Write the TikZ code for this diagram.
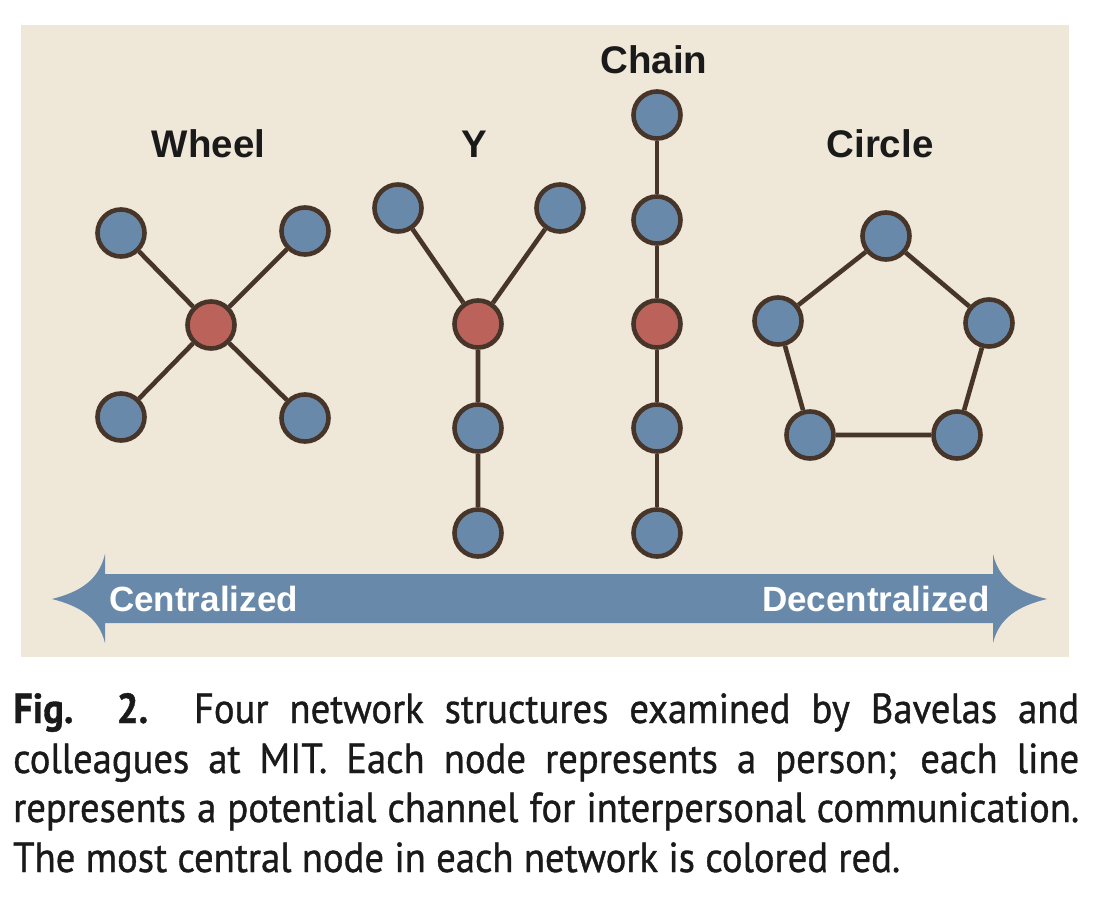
\documentclass[tikz,border=0pt]{standalone}
\usepackage{fontspec}
\newfontfamily\hfont{Liberation Sans}
\newfontfamily\capfont[FakeStretch=0.92,FakeBold=0.9]{PT Sans}
\definecolor{bgpanel}{HTML}{EFE7D7}
\definecolor{nodeblue}{HTML}{6889A9}
\definecolor{nodered}{HTML}{BB625A}
\definecolor{edgebrown}{HTML}{47352A}
\definecolor{arrowblue}{HTML}{6889A9}
\definecolor{inktext}{HTML}{1A1A1A}
\tikzset{
  pnode/.style={circle, draw=edgebrown, line width=4.6pt, minimum size=47pt, inner sep=0pt, fill=nodeblue},
  cnode/.style={pnode, fill=nodered},
  link/.style={draw=edgebrown, line width=4.6pt},
  title/.style={font=\hfont\bfseries\fontsize{38.5}{40}\selectfont, text=inktext, anchor=base, inner sep=0pt},
  arrowlabel/.style={font=\hfont\bfseries\fontsize{35}{36}\selectfont, text=white, anchor=base, inner sep=0pt},
  capline/.style={font=\capfont\fontsize{42}{50}\selectfont, text=inktext, anchor=base west, inner sep=0pt}
}
\begin{document}
\begin{tikzpicture}[x=1pt, y=-1pt]
\useasboundingbox (0,0) rectangle (1114,910);
\fill[white] (0,0) rectangle (1114,910);
\fill[bgpanel] (21,25) rectangle (1069,657);

% titles
\node[title] (tWheel) at (208.5,157) {Wheel};
\node[title] (tY) at (474,157) {Y};
\node[title] (tChain) at (654,73) {Chain};
\node[title] (tCircle) at (880,157) {Circle};

% Wheel
\node[cnode] (w0) at (211,325) {};
\node[pnode] (w1) at (121,233) {};
\node[pnode] (w2) at (305,231) {};
\node[pnode] (w3) at (121,417) {};
\node[pnode] (w4) at (305,418) {};
\draw[link] (w0) -- (w1) (w0) -- (w2) (w0) -- (w3) (w0) -- (w4);

% Y
\node[cnode] (y0) at (478,324) {};
\node[pnode] (y1) at (398,208) {};
\node[pnode] (y2) at (560,208) {};
\node[pnode] (y3) at (478,428) {};
\node[pnode] (y4) at (478,533) {};
\draw[link] (y0) -- (y1) (y0) -- (y2) (y0) -- (y3) (y3) -- (y4);

% Chain
\node[pnode] (c1) at (657,115) {};
\node[pnode] (c2) at (657,220) {};
\node[cnode] (c0) at (657,324) {};
\node[pnode] (c3) at (657,428) {};
\node[pnode] (c4) at (657,533) {};
\draw[link] (c1) -- (c2) (c2) -- (c0) (c0) -- (c3) (c3) -- (c4);

% Circle
\node[pnode] (r1) at (886,236) {};
\node[pnode] (r2) at (989,323) {};
\node[pnode] (r3) at (957,435) {};
\node[pnode] (r4) at (810,435) {};
\node[pnode] (r5) at (778,321) {};
\draw[link] (r1) -- (r2) (r2) -- (r3) (r3) -- (r4) (r4) -- (r5) (r5) -- (r1);

% double arrow
\fill[arrowblue] (105,574) -- (105,554) .. controls (99,580) and (80,592) .. (52,599)
  .. controls (80,606) and (99,618) .. (105,643) -- (105,623) -- (993,623) -- (993,643)
  .. controls (999,618) and (1018,606) .. (1047,599)
  .. controls (1018,592) and (999,580) .. (993,554) -- (993,574) -- cycle;
\node[arrowlabel, anchor=base west] (lCent) at (109,611) {Centralized};
\node[arrowlabel, anchor=base east] (lDecent) at (990,611) {Decentralized};

% caption
\node[capline] (cap1) at (13,723) {\makebox[1066pt][s]{\textbf{Fig. 2.} Four network structures examined by Bavelas and}};
\node[capline] (cap2) at (13,773) {\makebox[1066pt][s]{colleagues at MIT. Each node represents a person; each line}};
\node[capline] (cap3) at (13,822) {\makebox[1066pt][s]{represents a potential channel for interpersonal communication.}};
\node[capline] (cap4) at (13,872) {The most central node in each network is colored red.};
\end{tikzpicture}
\end{document}
